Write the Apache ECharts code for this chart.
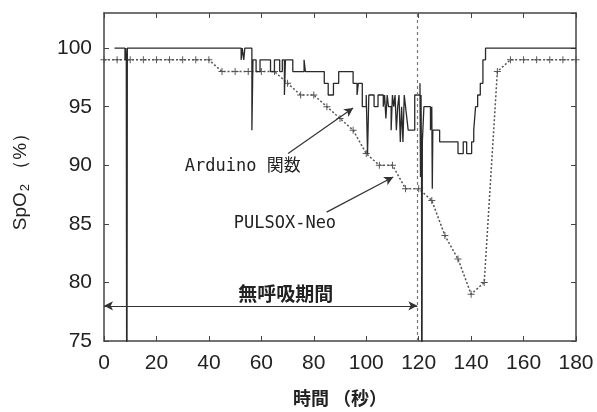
<!DOCTYPE html>
<html lang="ja">
<head>
<meta charset="UTF-8">
<title>SpO2</title>
<script src="https://cdn.jsdelivr.net/npm/echarts@6/dist/echarts.min.js"></script>
<style>
  html, body { margin: 0; background: #fff; }
  #main { width: 597px; height: 412px; }
</style>
</head>
<body>
<div id="main"></div>
<script type="text/javascript">
// 時間（秒）と SpO2 の値
var xTicks = [0, 20, 40, 60, 80, 100, 120, 140, 160, 180];
var yTicks = [75, 80, 85, 90, 95, 100];

// Arduino 関数 (サンプル＆ホールド)
var arduinoT = [4, 8, 8.3, 8.5, 8.7, 8.9, 52.3, 52.7, 53.3, 53.7, 56.4, 56.8, 58, 59.5, 63.5, 65, 67, 68, 68.8, 69.2,
  72, 76.3, 76.8, 84, 85.5, 87.5, 89.5, 95, 96.5, 97, 98.5, 100, 100.5, 101, 103, 104.5, 106.5, 107, 107.5, 108,
  108.5, 109.5, 110, 110.5, 111, 111.5, 112, 112.5, 113, 113.5, 114, 114.5, 115, 115.5, 116, 118.5, 120.5, 120.7,
  120.9, 121.1, 121.2, 121.4, 122, 124.5, 125, 125.2, 125.4, 128, 135, 137, 138.3, 140.2, 141, 141.7, 142.5, 143.5,
  144.5, 145.5, 180];
var arduinoV = [100, 99, 100, 99, 60, 100, 99, 100, 99, 100, 93, 99, 98, 99, 98, 99, 98, 99, 96, 99,
  98, 99, 98, 97, 96, 97, 98, 97, 96, 97, 95, 96, 91, 96, 95, 96, 95, 96, 94, 96,
  95, 93, 96, 95, 96, 93, 95, 96, 92, 95, 92, 96, 95, 94, 93, 96, 97, 89,
  96, 89, 60, 92, 95, 93, 95, 88, 93, 92, 91, 92, 91, 92, 93, 95, 96, 97,
  99, 100, 100];

// PULSOX-Neo (5秒ごと)
var pulsoxT = [0, 5, 10, 15, 20, 25, 30, 35, 40, 45, 50, 55, 60, 65, 70, 75, 80, 85, 90, 95, 100, 105, 110, 115,
  120, 125, 130, 135, 140, 145, 150, 155, 160, 165, 170, 175, 180];
var pulsoxV = [99, 99, 99, 99, 99, 99, 99, 99, 99, 98, 98, 98, 98, 98, 97, 96, 96, 95, 94, 93, 91, 90, 90, 88,
  88, 87, 84, 82, 79, 80, 98, 99, 99, 99, 99, 99, 99];

var apneaEnd = 119.5;

function pairs(t, v) {
  var out = [];
  for (var i = 0; i < t.length; i++) out.push([t[i], v[i]]);
  return out;
}

var numFont = "'Liberation Sans Narrow', 'Liberation Sans', sans-serif";
var cjkFont = "'Noto Sans CJK JP', sans-serif";
var monoFont = "'DejaVu Sans Mono', 'Noto Sans CJK JP', monospace";
var ink = '#333';
var plus = 'path://M0,4.3H10V5.7H0ZM4.3,0H5.7V10H4.3Z';

var myChart = echarts.init(document.getElementById('main'));
var boxLine = { show: true, onZero: false, lineStyle: { color: '#444', width: 1.5 } };
var tick = { show: true, inside: true, length: 5, lineStyle: { color: '#444', width: 1 } };

var option = {
  animation: false,
  grid: { left: 104, right: 21, top: 13, bottom: 58 },
  xAxis: [{
    type: 'value', min: 0, max: 180, interval: 20, position: 'bottom',
    axisLine: boxLine, axisTick: tick, splitLine: { show: false },
    axisLabel: {
      color: '#222', fontSize: 21, fontFamily: numFont, margin: 12,
      formatter: function (v) { return xTicks.indexOf(v) >= 0 ? v : ''; }
    },
    name: '時間 （秒）', nameLocation: 'middle', nameGap: 48,
    nameTextStyle: { color: '#222', fontSize: 18, fontWeight: 'bold', fontFamily: cjkFont }
  }, {
    type: 'value', min: 0, max: 180, interval: 20, position: 'top',
    axisLine: boxLine, axisTick: tick, splitLine: { show: false }, axisLabel: { show: false }
  }],
  yAxis: [{
    type: 'value', min: 75, max: 103, interval: 5, position: 'left',
    axisLine: boxLine, axisTick: tick, splitLine: { show: false },
    axisLabel: {
      color: '#222', fontSize: 21, fontFamily: numFont, margin: 12, showMaxLabel: false,
      formatter: function (v) { return yTicks.indexOf(v) >= 0 ? v : ''; }
    },
    name: '{a|SpO}{s|2}{a| （%）}', nameLocation: 'middle', nameGap: 72,
    nameTextStyle: {
      color: '#222',
      rich: {
        a: { fontSize: 19, fontFamily: numFont, color: '#222', lineHeight: 22, verticalAlign: 'middle' },
        s: { fontSize: 13, fontFamily: numFont, color: '#222', lineHeight: 22, verticalAlign: 'bottom', padding: [10, 0, 0, 1] }
      }
    }
  }, {
    type: 'value', min: 75, max: 103, interval: 5, position: 'right',
    axisLine: boxLine, axisTick: tick, splitLine: { show: false }, axisLabel: { show: false }
  }],
  series: [{
    name: 'Arduino 関数',
    type: 'line',
    step: 'end',
    data: pairs(arduinoT, arduinoV),
    showSymbol: false,
    clip: true,
    lineStyle: { color: '#2a2a2a', width: 1.3 },
    z: 3
  }, {
    name: 'PULSOX-Neo',
    type: 'line',
    data: pairs(pulsoxT, pulsoxV),
    symbol: plus,
    symbolSize: 7,
    itemStyle: { color: '#555' },
    lineStyle: { color: '#555', width: 1.5, type: [2, 2] },
    z: 2,
    markLine: {
      silent: true,
      animation: false,
      label: { show: false },
      data: [
        [{ xAxis: apneaEnd, yAxis: 75, symbol: 'none' }, { xAxis: apneaEnd, yAxis: 103, symbol: 'none',
          lineStyle: { color: '#777', width: 1.2, type: [3, 3] } }],
        [{ coord: [0, 78], symbol: 'arrow' }, { coord: [apneaEnd, 78], symbol: 'arrow',
          lineStyle: { color: ink, width: 1.2, type: 'solid' } }],
        [{ coord: [70.2, 91.0], symbol: 'none' }, { coord: [95, 94.9], symbol: 'arrow',
          lineStyle: { color: ink, width: 1.2, type: 'solid' } }],
        [{ coord: [84.9, 86.0], symbol: 'none' }, { coord: [110.3, 89.0], symbol: 'arrow',
          lineStyle: { color: ink, width: 1.2, type: 'solid' } }]
      ],
      symbolSize: [7, 9]
    },
    markPoint: {
      silent: true,
      symbol: 'circle',
      symbolSize: 0,
      data: [
        { coord: [52.9, 89.9], label: { show: true, formatter: 'Arduino 関数', color: '#222', fontSize: 17, fontFamily: monoFont } },
        { coord: [69.0, 85.05], label: { show: true, formatter: 'PULSOX-Neo', color: '#222', fontSize: 17, fontFamily: monoFont } },
        { coord: [69.3, 79.0], label: { show: true, formatter: '無呼吸期間', color: '#222', fontSize: 19, fontWeight: 'bold', fontFamily: cjkFont } }
      ]
    }
  }]
};
myChart.setOption(option);
</script>
</body>
</html>
